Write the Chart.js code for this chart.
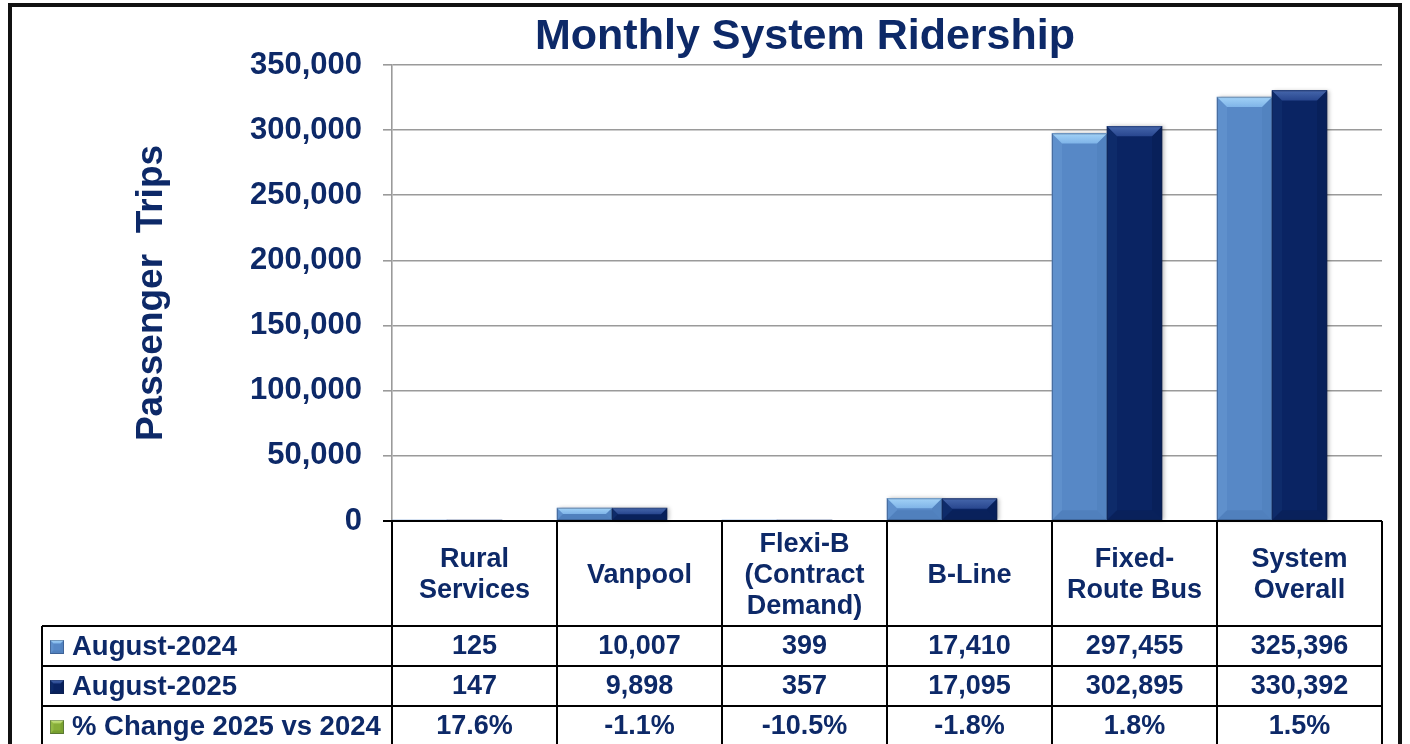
<!DOCTYPE html>
<html><head><meta charset="utf-8">
<script src="https://cdn.jsdelivr.net/npm/chart.js@4.4.0/dist/chart.umd.min.js"></script>
<style>html,body{margin:0;padding:0;background:#fff;}#wrap{width:1410px;height:744px;position:relative;}</style>
</head><body><div id="wrap"><canvas id="c" width="1410" height="744"></canvas></div>
<script>
const chartTitle = 'Monthly System Ridership';
const yAxisTitle = 'Passenger  Trips';
const categories = [['Rural','Services'],['Vanpool'],['Flexi-B','(Contract','Demand)'],['B-Line'],['Fixed-','Route Bus'],['System','Overall']];
const seriesNames = ['August-2024','August-2025','% Change 2025 vs 2024'];
const aug2024 = [125, 10007, 399, 17410, 297455, 325396];
const aug2025 = [147, 9898, 357, 17095, 302895, 330392];
const pctChange = [17.6, -1.1, -10.5, -1.8, 1.8, 1.5];
const yMin = 0, yMax = 350000, yStep = 50000;

const NAVY_TEXT = '#0d2968';
const FONT = '"Liberation Sans", Arial, sans-serif';
const styles = [
  {main:'#5788c6', top1:'#a2d2f7', top2:'#7fb4e8', left:'#5f90cc', right:'#5283c0', bottom:'#5080bd'},
  {main:'#0a2463', top1:'#4566ab', top2:'#28468e', left:'#0e2b6a', right:'#08205a', bottom:'#09215b'},
  {main:'#86ad38', top1:'#cde88a', top2:'#a9cc5c', left:'#92b944', right:'#7aa230', bottom:'#779f2f'}
];

function poly(ctx, pts, fill) {
  ctx.beginPath(); ctx.moveTo(pts[0][0], pts[0][1]);
  for (let i = 1; i < pts.length; i++) ctx.lineTo(pts[i][0], pts[i][1]);
  ctx.closePath(); ctx.fillStyle = fill; ctx.fill();
}
function bevelBox(ctx, l, t, r, b, st, maxB) {
  const h = b - t; if (h <= 0.5) return;
  ctx.save();
  const bv = Math.min(maxB, h / 2, (r - l) / 4);
  ctx.fillStyle = st.main; ctx.fillRect(l, t, r - l, h);
  const g = ctx.createLinearGradient(0, t, 0, t + bv);
  g.addColorStop(0, st.top1); g.addColorStop(1, st.top2);
  poly(ctx, [[l,t],[l+bv,t+bv],[l+bv,b-bv],[l,b]], st.left);
  poly(ctx, [[r,t],[r,b],[r-bv,b-bv],[r-bv,t+bv]], st.right);
  poly(ctx, [[l,b],[r,b],[r-bv,b-bv],[l+bv,b-bv]], st.bottom);
  poly(ctx, [[l,t],[r,t],[r-bv,t+bv],[l+bv,t+bv]], g);
  ctx.strokeStyle = 'rgba(20,30,60,0.3)'; ctx.lineWidth = 1;
  ctx.strokeRect(l + 0.5, t + 0.5, r - l - 1, h - 1);
  ctx.restore();
}

const bevelPlugin = {
  id: 'bevel',
  afterDatasetsDraw(chart) {
    const ctx = chart.ctx;
    ctx.save();
    for (let d = 0; d < 2; d++) {
      chart.getDatasetMeta(d).data.forEach(el => {
        const p = el.getProps(['x','y','base','width'], true);
        const l = p.x - p.width / 2, r = p.x + p.width / 2;
        const t = Math.min(p.y, p.base), b = Math.max(p.y, p.base);
        if (b - t < 1) return;
        ctx.save();
        ctx.shadowColor = 'rgba(0,0,0,0.28)'; ctx.shadowBlur = 4; ctx.shadowOffsetX = 2; ctx.shadowOffsetY = 0;
        ctx.fillStyle = styles[d].main; ctx.fillRect(l, t, r - l, b - t);
        ctx.restore();
      });
    }
    for (let d = 0; d < 2; d++) {
      chart.getDatasetMeta(d).data.forEach(el => {
        const p = el.getProps(['x','y','base','width'], true);
        const l = p.x - p.width / 2, r = p.x + p.width / 2;
        const t = Math.min(p.y, p.base), b = Math.max(p.y, p.base);
        if (b - t < 1) return;
        bevelBox(ctx, l, t, r, b, styles[d], 10);
      });
    }
    ctx.restore();
  }
};

const tablePlugin = {
  id: 'table',
  afterDraw(chart) {
    const ctx = chart.ctx, ca = chart.chartArea;
    const n = categories.length;
    const cw = (ca.right - ca.left) / n;
    const top = ca.bottom, headerB = top + 105, rowH = 40, legL = 42;
    const rowsB = [headerB + rowH, headerB + 2 * rowH, headerB + 3 * rowH];
    ctx.save();
    ctx.fillStyle = NAVY_TEXT; ctx.font = 'bold 43px ' + FONT;
    ctx.textAlign = 'center'; ctx.textBaseline = 'middle';
    ctx.fillText(chartTitle, 805, 37);
    ctx.strokeStyle = '#111'; ctx.lineWidth = 4;
    ctx.strokeRect(10, 5, 1390, 800);
    ctx.strokeStyle = '#000'; ctx.lineWidth = 2;
    ctx.beginPath();
    ctx.moveTo(ca.left - 9, top); ctx.lineTo(ca.right, top);
    ctx.moveTo(legL, headerB); ctx.lineTo(ca.right, headerB);
    rowsB.forEach(y => { ctx.moveTo(legL, y); ctx.lineTo(ca.right, y); });
    ctx.moveTo(legL, headerB); ctx.lineTo(legL, 760);
    for (let i = 0; i <= n; i++) {
      const x = ca.left + i * cw;
      ctx.moveTo(x, top); ctx.lineTo(x, 760);
    }
    ctx.stroke();
    ctx.font = 'bold 27px ' + FONT;
    ctx.textAlign = 'center'; ctx.textBaseline = 'middle';
    const lh = 31, hc = (top + headerB) / 2 + 2;
    categories.forEach((lines, i) => {
      const x = ca.left + (i + 0.5) * cw;
      ctx.fillStyle = NAVY_TEXT;
      lines.forEach((s, k) => ctx.fillText(s, x, hc + (k - (lines.length - 1) / 2) * lh));
    });
    const rows = [
      aug2024.map(v => v.toLocaleString('en-US')),
      aug2025.map(v => v.toLocaleString('en-US')),
      pctChange.map(v => v.toFixed(1) + '%')
    ];
    rows.forEach((vals, r) => {
      const cy = headerB + r * rowH + rowH / 2 + 1;
      bevelBox(ctx, 50, cy - 7, 64, cy + 7, styles[r], 4);
      ctx.fillStyle = NAVY_TEXT;
      ctx.textAlign = 'center';
      ctx.font = 'bold 27px ' + FONT;
      vals.forEach((s, i) => ctx.fillText(s, ca.left + (i + 0.5) * cw, cy));
      ctx.textAlign = 'left';
      ctx.font = 'bold 27.5px ' + FONT;
      ctx.fillText(seriesNames[r], 72, cy);
    });
    ctx.restore();
  }
};

new Chart(document.getElementById('c'), {
  type: 'bar',
  data: {
    labels: categories,
    datasets: [
      {label: seriesNames[0], data: aug2024, backgroundColor: styles[0].main, borderWidth: 0},
      {label: seriesNames[1], data: aug2025, backgroundColor: styles[1].main, borderWidth: 0},
      {label: seriesNames[2], data: categories.map(() => null), backgroundColor: styles[2].main, borderWidth: 0}
    ]
  },
  options: {
    responsive: false,
    animation: false,
    layout: {padding: {top: 65, right: 28, bottom: 0, left: 0}},
    categoryPercentage: 1,
    barPercentage: 1,
    plugins: {legend: {display: false}, title: {display: false}, tooltip: {enabled: false}},
    scales: {
      x: {
        ticks: {display: false},
        grid: {display: false},
        border: {display: false},
        afterFit(scale) { scale.height = 223; }
      },
      y: {
        min: yMin, max: yMax,
        ticks: {
          stepSize: yStep, padding: 21, color: NAVY_TEXT,
          font: {family: FONT, size: 31, weight: 'bold'},
          callback: v => v.toLocaleString('en-US')
        },
        grid: {color: '#9a9a9a', lineWidth: 1.6, tickLength: 9},
        border: {display: true, color: '#9a9a9a', width: 1.6},
        title: {display: true, text: yAxisTitle, color: NAVY_TEXT,
          font: {family: FONT, size: 37, weight: 'bold'}, padding: {top: 130, bottom: 0}},
        afterFit(scale) { scale.width = 392; }
      }
    }
  },
  plugins: [bevelPlugin, tablePlugin]
});
</script>
</body></html>
